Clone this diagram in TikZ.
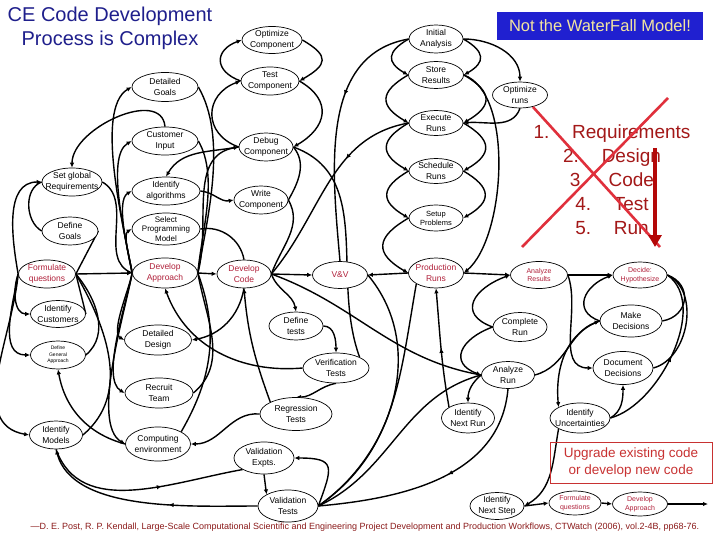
\documentclass[tikz,border=0pt]{standalone}
\usepackage{fontspec}
\setmainfont{Liberation Sans}
\usetikzlibrary{shapes.geometric,arrows.meta,positioning,backgrounds,decorations.markings}
\definecolor{cTitle}{HTML}{1F1F8C}
\definecolor{cBox}{HTML}{2020D0}
\definecolor{cCream}{HTML}{F2E4A0}
\definecolor{cHot}{HTML}{B0203A}
\definecolor{cList}{HTML}{A31818}
\definecolor{cCross}{HTML}{E0303C}
\definecolor{cDrop}{HTML}{B40808}
\definecolor{cCite}{HTML}{8B1A1A}
\definecolor{cUp}{HTML}{C83232}
\tikzset{
  act/.style 2 args = {ellipse, draw, fill=white, line width=0.7pt, align=center,
                       inner xsep=-20pt, inner ysep=-4pt, minimum width=#1pt, minimum height=#2pt,
                       font=\fontsize{8.5}{10.5}\selectfont},
  hot/.style    = {text=cHot},
  sm/.style     = {font=\fontsize{7}{8.5}\selectfont},
  fl/.style     = {-{Latex[length=5pt,width=4.5pt]}, line width=1.4pt},
  ln/.style     = {line width=1.4pt},
  midarr/.style = {postaction={decorate}, decoration={markings,
                   mark=at position #1 with {\arrow{Latex[length=5pt,width=4.5pt]}}}},
  cross/.style  = {draw=cCross, line width=2.6pt},
  drop/.style   = {draw=cDrop, line width=4.5pt, -{Triangle[length=12pt,width=13pt]}},
}

\begin{document}
\begin{tikzpicture}[x=1pt, y=1pt]
  \useasboundingbox (0,0) rectangle (720,-540);

  \node[font=\fontsize{20}{24}\selectfont, text=cTitle, align=center] (ttl) at (110,-28)
    {CE Code Development\\Process is Complex};
  \node[fill=cBox, text=cCream, minimum width=206pt, minimum height=28pt, inner sep=0pt,
        font=\fontsize{16.5}{18}\selectfont] (wf) at (600,-26) {Not the WaterFall Model!};

  % left cluster
  \node[act={66}{29}] (dgoals) at (165,-87) {Detailed\\Goals};
  \node[act={66}{28}] (custin) at (165,-141) {Customer\\Input};
  \node[act={60}{28}] (setreq) at (72,-182) {Set global\\Requirements};
  \node[act={68}{28}] (idalg) at (166,-191) {Identify\\algorithms};
  \node[act={56}{28}] (defgoals) at (70,-231) {Define\\Goals};
  \node[act={68}{32}, font=\fontsize{8}{9.5}\selectfont] (selmod) at (166,-229) {Select\\Programming\\Model};
  \node[act={57}{28}, hot] (formq) at (47,-274) {Formulate\\questions};
  \node[act={65}{30}, hot] (devapp) at (165,-273) {Develop\\Approach};
  \node[act={55}{27}] (idcust) at (58,-314) {Identify\\Customers};
  \node[act={67}{30}] (ddesign) at (158,-340) {Detailed\\Design};
  \node[act={55}{28}, font=\fontsize{5}{6.5}\selectfont] (genapp) at (58,-355) {Define\\General\\Approach};
  \node[act={68}{30}] (recruit) at (159,-393) {Recruit\\Team};
  \node[act={53}{28}] (idmod) at (56,-435) {Identify\\Models};
  \node[act={65}{34}] (compenv) at (158,-444) {Computing\\environment};

  % code and test
  \node[act={60}{27}] (optc) at (272,-40) {Optimize\\Component};
  \node[act={58}{28}] (testc) at (270,-81) {Test\\Component};
  \node[act={54}{28}] (debugc) at (266,-147) {Debug\\Component};
  \node[act={54}{28}] (writec) at (261,-200) {Write\\Component};
  \node[act={54}{28}, hot] (devcode) at (244,-274) {Develop\\Code};
  \node[act={55}{27}, hot] (vv) at (340,-275) {V\&V};
  \node[act={54}{28}] (deftests) at (296,-326) {Define\\tests};
  \node[act={66}{30}] (verif) at (336,-368) {Verification\\Tests};
  \node[act={72}{33}] (regr) at (296,-414) {Regression\\Tests};
  \node[act={60}{32}] (valexp) at (264,-458) {Validation\\Expts.};
  \node[act={60}{32}] (valtest) at (288,-506) {Validation\\Tests};

  % production
  \node[act={54}{28}] (inita) at (436,-39) {Initial\\Analysis};
  \node[act={55}{27}] (store) at (436,-75) {Store\\Results};
  \node[act={54}{25}] (exec) at (436,-123) {Execute\\Runs};
  \node[act={54}{25}] (sched) at (436,-171) {Schedule\\Runs};
  \node[act={54}{26}, font=\fontsize{7.5}{9}\selectfont] (setup) at (436,-218) {Setup\\Problems};
  \node[act={55}{30}, hot] (prod) at (436,-273) {Production\\Runs};
  \node[act={55}{26}] (optruns) at (520,-95) {Optimize\\runs};
  \node[act={57}{27}, hot, sm] (anres) at (539,-275) {Analyze\\Results};
  \node[act={54}{26}, hot, sm] (decide) at (640,-275) {Decide:\\Hypothesize};
  \node[act={54}{29}] (comprun) at (520,-327) {Complete\\Run};
  \node[act={62}{32}] (makedec) at (631,-321) {Make\\Decisions};
  \node[act={60}{33}] (docdec) at (623,-368) {Document\\Decisions};
  \node[act={53}{27}] (anrun) at (508,-375) {Analyze\\Run};
  \node[act={60}{30}] (iduncert) at (580,-418) {Identify\\Uncertainties};
  \node[act={53}{30}] (idnextrun) at (468,-418) {Identify\\Next Run};
  \node[act={54}{27}] (idnextstep) at (497,-506) {Identify\\Next Step};
  \node[act={52}{24}, hot, sm] (formq2) at (575,-503) {Formulate\\questions};
  \node[act={55}{24}, hot, sm] (devapp2) at (640,-504) {Develop\\Approach};
  \coordinate (exit) at (708,-504);

  \node[draw=cUp, line width=0.8pt, text=cUp, minimum width=162pt, minimum height=41pt,
        align=center, font=\fontsize{13.5}{17}\selectfont] (upg) at (631,-463)
    {Upgrade existing code\\or develop new code};
  \node[text=cCite, font=\fontsize{9}{10}\selectfont] (cite) at (365,-527)
    {---D. E. Post, R. P. Kendall, Large-Scale Computational Scientific and Engineering Project Development and Production Workflows, CTWatch (2006), vol.2-4B, pp68-76.};

  \node[text=cList, align=center, font=\fontsize{19}{24}\selectfont] (wlist) at (612,-180)
    {1.\hspace{1.2em}Requirements\\2.\hspace{1.2em}Design\\3.\hspace{1.2em}Code\\4.\hspace{1.2em}Test\\5.\hspace{1.2em}Run};
  \draw[cross] (533,-107) -- (660,-247);
  \draw[cross] (668,-98) -- (522,-247);
  \draw[drop] (655,-148) -- (655,-247);

  \begin{scope}[on background layer]
  \fill[white] (0,0) rectangle (720,-540);
  % left cluster
  \draw[fl] (custin.north) to[out=95,in=90] (setreq.north);
  \draw[fl] (formq.west) to[out=100,in=180] (setreq.west);
  \draw[ln] (defgoals.west) to[out=150,in=200] (setreq.west);
  \draw[ln] (defgoals.east) -- (formq.east);
  \draw[fl] (formq.east) -- (devapp.west);
  \draw[ln] (idcust.east) -- (formq.east);
  \draw[ln] (genapp.east) to[out=40,in=-50] (formq.east);
  \draw[fl] (formq.west) to[out=-110,in=180] (idcust.west);
  \draw[fl] (formq.west) to[out=-100,in=180] (genapp.west);
  \draw[fl] (formq.west) to[out=-95,in=170] (idmod.west);
  \draw[ln] (formq.east) to[out=-60,in=40] (idmod.east);
  \draw[ln] (setreq.east) to[out=-30,in=160] (devapp.west);
  \foreach \t in {dgoals,custin,idalg,selmod}
    \draw[fl] (devapp.west) to[out=100,in=-150,looseness=0.6] (\t.west);
  \foreach \t in {ddesign,recruit,compenv}
    \draw[fl] (devapp.west) to[out=-100,in=150,looseness=0.6] (\t.west);
  \draw[ln] (dgoals.east) to[out=-60,in=80,looseness=0.8] (devapp.east);
  \draw[ln] (custin.east) to[out=-60,in=85,looseness=0.8] (devapp.east);
  \draw[ln] (recruit.east) to[out=40,in=-80] (devapp.east);
  \draw[ln] (devapp.east) to[out=-70,in=60] (compenv.north east);
  \draw[fl] (devapp.east) -- (devcode.west);
  \draw[fl] (compenv.west) to[out=165,in=-80] (genapp.south);

  % code and test
  \draw[fl] (devapp.east) to[out=75,in=190] (debugc.west);
  \draw[fl] (debugc.west) to[out=160,in=200,looseness=1.5] (testc.west);
  \draw[fl] (testc.west) to[out=160,in=200,looseness=1.8] (optc.west);
  \draw[fl] (debugc.west) to[out=190,in=60] (idalg.north);
  \draw[fl] (idalg.east) to[out=-5,in=190] (writec.west);
  \draw[ln] (selmod.east) to[out=10,in=100] (devcode.north);
  \draw[fl] (optc.east) to[out=-30,in=30,looseness=2] (testc.east);
  \draw[fl] (testc.east) to[out=-30,in=30,looseness=1.5] (debugc.east);
  \draw[ln] (debugc.east) to[out=-50,in=60] (writec.east);
  \draw[ln] (writec.east) to[out=-60,in=70] (devcode.east);
  \draw[ln] (debugc.east) to[out=-20,in=110] (verif.north east);
  \draw[fl] (devcode.east) -- (vv.west);
  \draw[fl] (devcode.east) to[out=-70,in=100] (deftests.north);
  \draw[fl] (deftests.east) to[out=0,in=90] (verif.north);
  \draw[fl] (verif.south) to[out=-170,in=0] (regr.north);
  \draw[fl] (regr.west) to[out=175,in=0] (compenv.east);
  \draw[fl] (regr.north west) to[out=110,in=-85] (devcode.south);
  \draw[fl] (devcode.south) to[out=-100,in=10] (ddesign.east);
  \draw[fl] (verif.west) to[out=185,in=-70] (devapp.south);
  \draw[ln] (devcode.east) to[out=-20,in=170] (anrun.west);

  % production
  \draw[fl] (prod.west) -- (vv.east);
  \foreach \a/\b in {inita/store,store/exec,exec/sched,sched/setup,setup/prod}
    \draw[fl] (\a.west) to[out=210,in=150,looseness=1.8] (\b.west);
  \foreach \a/\b in {inita/store,store/exec,exec/sched,sched/setup}
    \draw[fl] (\a.east) to[out=-30,in=30,looseness=1.8] (\b.east);
  \draw[fl] (inita.east) to[out=0,in=90] (optruns.north);
  \draw[fl] (optruns.south) to[out=-110,in=5] (exec.east);
  \draw[fl] (store.east) to[out=-20,in=40,looseness=0.7] (prod.east);
  \draw[ln, midarr=0.35] (inita.west) to[out=190,in=95] (vv.north);
  \draw[ln, midarr=0.35] (exec.west) to[out=190,in=50] (devcode.east);
  \draw[fl] (prod.east) -- (anres.west);
  \draw[fl, midarr=0.5] (idnextrun.north west) to[out=100,in=-85] (prod.south);

  % analysis
  \draw[fl] (comprun.west) to[out=160,in=200,looseness=1.8] (anres.west);
  \draw[fl] (comprun.west) to[out=200,in=160,looseness=1.8] (anrun.west);
  \draw[fl] (anres.east) -- (decide.west);
  \draw[fl] (anres.east) to[out=-70,in=180] (docdec.west);
  \draw[fl] (makedec.west) to[out=160,in=200,looseness=1.6] (decide.west);
  \draw[ln] (makedec.east) to[out=10,in=-20,looseness=1.5] (decide.east);
  \draw[ln] (docdec.east) to[out=15,in=-25] (decide.east);
  \draw[ln, midarr=0.5] (iduncert.east) to[out=15,in=-35,looseness=0.85] (decide.east);
  \draw[fl] (iduncert.east) to[out=30,in=-90] (docdec.south);
  \draw[fl] (anrun.east) to[out=15,in=200] (makedec.west);
  \draw[fl] (makedec.west) to[out=200,in=95] (iduncert.north west);
  \draw[fl] (anrun.west) to[out=-140,in=90] (idnextrun.north);
  \draw[ln, midarr=0.45] (anrun.south) to[out=-95,in=5] (valtest.east);
  \draw[ln] (anrun.west) to[out=-165,in=25] (valtest.east);
  \draw[ln] (prod.south west) to[out=-100,in=35] (valtest.east);
  \draw[ln] (vv.east) to[out=-50,in=35] (valtest.east);

  % validation
  \draw[fl] (valtest.east) to[out=70,in=0,looseness=2] (valexp.east);
  \draw[fl] (valexp.south) -- (valtest.north west);
  \draw[ln, midarr=0.6] (idmod.south) to[out=-70,in=190] (valexp.south west);
  \draw[fl, midarr=0.4] (valtest.west) to[out=180,in=-75,looseness=0.8] (idmod.south);

  % next step
  \draw[fl] (iduncert.south west) to[out=-100,in=30] (idnextstep.east);
  \draw[fl] (idnextstep.east) -- (formq2.west);
  \draw[fl] (formq2.east) -- (devapp2.west);
  \draw[fl] (devapp2.east) -- (exit);
  \end{scope}
\end{tikzpicture}
\end{document}
